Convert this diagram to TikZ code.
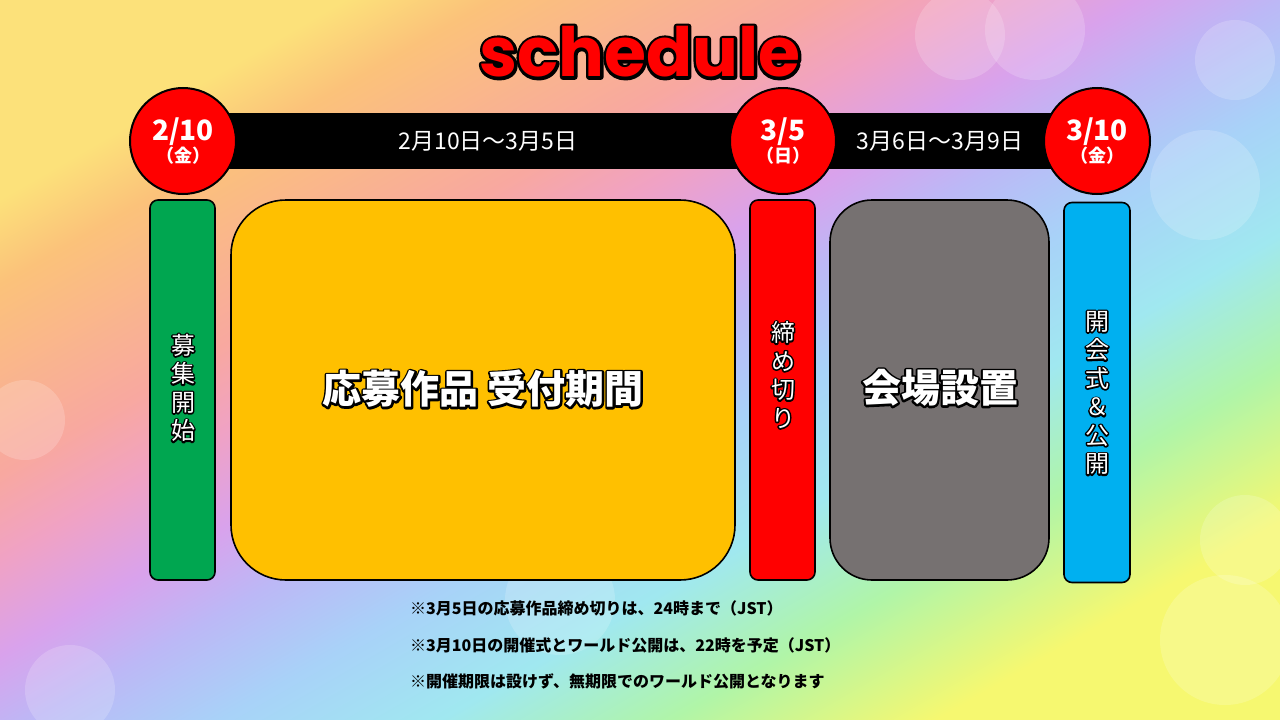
\documentclass[tikz,border=0pt]{standalone}
\usepackage{fontspec}
\newfontfamily\jpfont{Noto Sans CJK JP}
\newfontfamily\titlefont{Poppins}

% Colores
\definecolor{verde}{HTML}{00A650}
\definecolor{amarillo}{HTML}{FFC000}
\definecolor{rojo}{HTML}{FF0000}
\definecolor{gris}{HTML}{767171}
\definecolor{celeste}{HTML}{00B0F0}
\definecolor{arcoA}{HTML}{FCE17A}
\definecolor{arcoB}{HTML}{FBC27A}
\definecolor{arcoC}{HTML}{F8A8A0}
\definecolor{arcoD}{HTML}{F0A2C4}
\definecolor{arcoE}{HTML}{D9A2EC}
\definecolor{arcoF}{HTML}{BCB8F6}
\definecolor{arcoG}{HTML}{A8D2F8}
\definecolor{arcoH}{HTML}{A0E8F0}
\definecolor{arcoI}{HTML}{B0F5A8}
\definecolor{arcoJ}{HTML}{F6F870}
\pgfdeclarehorizontalshading{arcoiris}{100bp}{color(0bp)=(arcoA); color(25bp)=(arcoA);
  color(29bp)=(arcoB); color(38bp)=(arcoC); color(42bp)=(arcoD); color(46.5bp)=(arcoE);
  color(50.5bp)=(arcoF); color(55.5bp)=(arcoG); color(61.5bp)=(arcoH); color(67.75bp)=(arcoI);
  color(75bp)=(arcoJ); color(100bp)=(arcoJ)}

% Contorno del texto
\newcommand{\trazo}[1]{\special{pdf:literal direct 1 Tr #1 w 1 j}}
\newcommand{\relleno}{\special{pdf:literal direct 0 Tr}}

\tikzset{
  fecha/.style={circle, draw=black, line width=2pt, fill=rojo, minimum size=106pt,
    inner sep=0pt, text=white, align=center, font=\jpfont\bfseries},
  caja/.style={draw=black, line width=1.6pt, minimum height=380pt, inner sep=0pt},
  vertical/.style={align=center, inner sep=0pt, font=\jpfont\fontsize{24}{28.5}\selectfont},
  grande/.style={inner sep=0pt, font=\jpfont\bfseries\fontsize{39}{39}\selectfont},
  blanco/.style={text=white},
  contorno/.style={text=black, execute at begin node={\trazo{#1}}, execute at end node={\relleno}},
  nota/.style={anchor=west, inner sep=0pt, font=\jpfont\bfseries\fontsize{16}{16}\selectfont},
}

\begin{document}
\begin{tikzpicture}[x=1pt, y=-1pt]
        \useasboundingbox (0,0) rectangle (1280,720);
        % Fondo
        \begin{scope}
          \clip (0,0) rectangle (1280,720);
          \shade[shading=arcoiris, shading angle=-60] (0,0) rectangle (1280,720);
          \foreach \x/\y/\r in {960/35/45, 1035/30/50, 1235/60/40, 1205/185/55, 1225/640/65,
                                1245/540/45, 25/420/40, 70/690/45, 300/250/40, 560/600/55}
            \fill[white, fill opacity=0.18] (\x,\y) circle (\r pt);
        \end{scope}

        % Titulo
        \node[contorno=6, font=\titlefont\bfseries\fontsize{68}{68}\selectfont] at (640,52) {schedule};
        \node[text=rojo, font=\titlefont\bfseries\fontsize{68}{68}\selectfont] (titulo) at (640,52) {schedule};

        % Linea de tiempo
        \coordinate (p1) at (183,141);
        \coordinate (p2) at (783,141);
        \coordinate (p3) at (1097,141);
        \fill[black] ([yshift=28pt]p1) rectangle ([yshift=-28pt]p3);
        \node[text=white, font=\jpfont\fontsize{23}{23}\selectfont] (tramo1) at (488,141) {2月10日～3月5日};
        \node[text=white, font=\jpfont\fontsize{23}{23}\selectfont] (tramo2) at (940,141) {3月6日～3月9日};

        % Fechas
        \node[fecha] (inicio) at (p1) {\fontsize{28}{29}\selectfont 2/10\\\fontsize{18}{18}\selectfont （金）};
        \node[fecha] (cierre) at (p2) {\fontsize{28}{29}\selectfont 3/5\\\fontsize{18}{18}\selectfont （日）};
        \node[fecha] (apertura) at (p3) {\fontsize{28}{29}\selectfont 3/10\\\fontsize{18}{18}\selectfont （金）};

        % Cajas
        \node[caja, fill=verde, minimum width=65pt, rounded corners=8pt] (boxverde) at (182.5,390) {};
        \node[caja, fill=amarillo, minimum width=504pt, rounded corners=55pt] (boxamarillo) at (483,390) {};
        \node[caja, fill=rojo, minimum width=65pt, rounded corners=8pt] (boxrojo) at (782.5,390) {};
        \node[caja, fill=gris, minimum width=219pt, rounded corners=42pt] (boxgris) at (939.5,390) {};
        \node[caja, fill=celeste, minimum width=66pt, rounded corners=8pt] (boxceleste) at (1097,392.5) {};

        % Textos de las cajas
        \node[vertical, contorno=3] at (183,388) {募\\集\\開\\始};
        \node[vertical, blanco] (txtverde) at (183,388) {募\\集\\開\\始};
        \node[grande, contorno=4] at (483,389) {応募作品 受付期間};
        \node[grande, blanco] (txtamarillo) at (483,389) {応募作品 受付期間};
        \node[vertical, contorno=3] at (783,375) {締\\め\\切\\り};
        \node[vertical, blanco] (txtrojo) at (783,375) {締\\め\\切\\り};
        \node[grande, contorno=4] at (940,388) {会場設置};
        \node[grande, blanco] (txtgris) at (940,388) {会場設置};
        \node[vertical, contorno=3] at (1097,393) {開\\会\\式\\＆\\公\\開};
        \node[vertical, blanco] (txtceleste) at (1097,393) {開\\会\\式\\＆\\公\\開};

        % Notas
        \node[nota] (nota1) at (410,608) {※3月5日の応募作品締め切りは、24時まで（JST）};
        \node[nota] (nota2) at (410,645) {※3月10日の開催式とワールド公開は、22時を予定（JST）};
        \node[nota] (nota3) at (410,681) {※開催期限は設けず、無期限でのワールド公開となります};
    \end{tikzpicture}
\end{document}
